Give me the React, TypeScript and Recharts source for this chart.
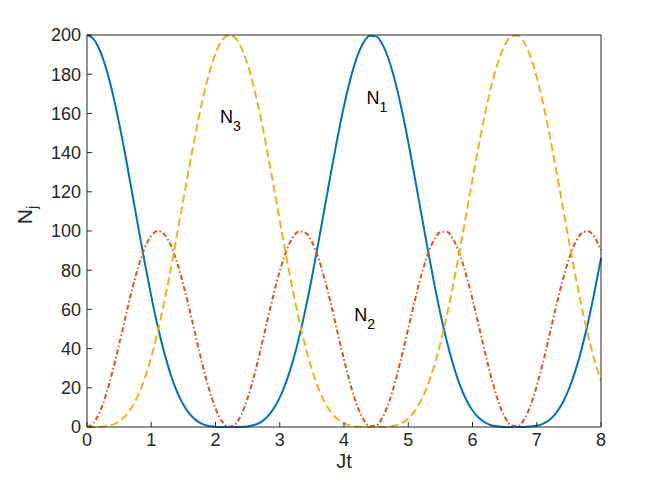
import { LineChart, Line, XAxis, YAxis, ReferenceDot } from 'recharts';

// Jt sample points
const jt = [
  0, 0.1, 0.2, 0.3, 0.4, 0.5, 0.6, 0.7, 0.8, 0.9,
  1, 1.1, 1.2, 1.3, 1.4, 1.5, 1.6, 1.7, 1.8, 1.9,
  2, 2.1, 2.2, 2.3, 2.4, 2.5, 2.6, 2.7, 2.8, 2.9,
  3, 3.1, 3.2, 3.3, 3.4, 3.5, 3.6, 3.7, 3.8, 3.9,
  4, 4.1, 4.2, 4.3, 4.4, 4.5, 4.6, 4.7, 4.8, 4.9,
  5, 5.1, 5.2, 5.3, 5.4, 5.5, 5.6, 5.7, 5.8, 5.9,
  6, 6.1, 6.2, 6.3, 6.4, 6.5, 6.6, 6.7, 6.8, 6.9,
  7, 7.1, 7.2, 7.3, 7.4, 7.5, 7.6, 7.7, 7.8, 7.9,
  8,
];

const n1 = [
  200, 198.0, 192.1, 182.7, 170.1, 154.9, 138.0, 119.9, 101.6, 83.7,
  66.8, 51.5, 38.2, 27.0, 18.1, 11.4, 6.6, 3.4, 1.5, 0.5,
  0.1, 0.0, 0.0, 0.0, 0.1, 0.3, 1.0, 2.4, 5.0, 9.1,
  15.0, 23.0, 33.1, 45.6, 60.0, 76.3, 93.8, 112.1, 130.3, 147.8,
  163.8, 177.6, 188.5, 195.9, 199.6, 199.3, 195.1, 187.1, 175.8, 161.7,
  145.4, 127.7, 109.4, 91.3, 73.9, 57.9, 43.7, 31.6, 21.7, 14.0,
  8.4, 4.6, 2.2, 0.8, 0.2, 0.0, 0.0, 0.0, 0.0, 0.2,
  0.6, 1.7, 3.7, 7.1, 12.2, 19.3, 28.5, 40.0, 53.6, 69.1,
  86.2,
];

const n2 = [
  0, 2.0, 7.8, 16.9, 28.7, 42.2, 56.3, 69.9, 81.9, 91.4,
  97.6, 100.0, 98.4, 93.0, 84.2, 72.6, 59.3, 45.2, 31.5, 19.3,
  9.5, 2.9, 0.1, 1.2, 6.2, 14.7, 26.0, 39.2, 53.3, 67.1,
  79.5, 89.6, 96.5, 99.8, 99.1, 94.5, 86.3, 75.3, 62.3, 48.2,
  34.4, 21.7, 11.3, 4.0, 0.4, 0.7, 4.9, 12.6, 23.4, 36.3,
  50.2, 64.2, 77.0, 87.7, 95.4, 99.4, 99.6, 95.8, 88.3, 77.9,
  65.2, 51.3, 37.3, 24.3, 13.3, 5.3, 0.8, 0.3, 3.6, 10.7,
  20.9, 33.4, 47.2, 61.3, 74.4, 85.6, 94.0, 98.9, 99.9, 96.9,
  90.2,
];

const n3 = [
  0, 0.0, 0.1, 0.4, 1.2, 2.9, 5.7, 10.2, 16.5, 24.9,
  35.6, 48.5, 63.4, 79.9, 97.7, 116.0, 134.2, 151.4, 167.0, 180.2,
  190.4, 197.1, 199.9, 198.8, 193.7, 185.0, 173.0, 158.3, 141.7, 123.8,
  105.5, 87.4, 70.3, 54.7, 40.9, 29.3, 19.9, 12.6, 7.4, 3.9,
  1.8, 0.7, 0.2, 0.0, 0.0, 0.0, 0.0, 0.2, 0.8, 2.0,
  4.3, 8.1, 13.5, 21.1, 30.8, 42.7, 56.8, 72.7, 90.0, 108.1,
  126.4, 144.2, 160.6, 174.9, 186.4, 194.7, 199.2, 199.7, 196.3, 189.1,
  178.5, 164.9, 149.0, 131.6, 113.4, 95.1, 77.5, 61.2, 46.5, 34.0,
  23.6,
];

const xTicks = [0, 1, 2, 3, 4, 5, 6, 7, 8];
const yTicks = [0, 20, 40, 60, 80, 100, 120, 140, 160, 180, 200];

// curve annotations (left edge / baseline of the "N")
const notes = [
  { sub: '1', x: 4.35, y: 165 },
  { sub: '3', x: 2.07, y: 155 },
  { sub: '2', x: 4.16, y: 54 },
];

const data = jt.map((t, i) => ({ t, n1: n1[i], n2: n2[i], n3: n3[i] }));

const FONT = '"Liberation Sans", Arial, Helvetica, sans-serif';
const AXIS = '#262626';
const tickStyle = { fill: AXIS, fontSize: 18, fontFamily: FONT };

const XLabel = ({ viewBox }: any) => (
  <text
    x={viewBox.x + viewBox.width / 2}
    y={viewBox.y + 41}
    textAnchor="middle"
    fontSize={20}
    fontFamily={FONT}
    fill={AXIS}
  >
    Jt
  </text>
);

const YLabel = ({ viewBox }: any) => {
  const x = viewBox.x - 54;
  const y = viewBox.y + 180;
  return (
    <text
      x={x}
      y={y}
      transform={`rotate(-90, ${x}, ${y})`}
      textAnchor="middle"
      fontSize={21}
      fontFamily={FONT}
      fill={AXIS}
    >
      N
      <tspan fontSize={15} dy={5}>
        j
      </tspan>
    </text>
  );
};

const noteShape = (sub: string) => (props: any) => (
  <text x={props.cx} y={props.cy} fontSize={18} fontFamily={FONT} fill="#000">
    N
    <tspan fontSize={14} dy={8}>
      {sub}
    </tspan>
  </text>
);

export default function App() {
  return (
    <div style={{ position: 'absolute', left: 0, top: 0, background: '#fff' }}>
      <LineChart
        width={664}
        height={480}
        data={data}
        margin={{ top: 34, right: 62, bottom: 52, left: 86 }}
      >
        <XAxis
          dataKey="t"
          type="number"
          domain={[0, 8]}
          ticks={xTicks}
          interval={0}
          height={1}
          stroke={AXIS}
          tickSize={-5}
          tickMargin={11}
          tick={tickStyle}
          label={<XLabel />}
        />
        <XAxis
          xAxisId="top"
          orientation="top"
          dataKey="t"
          type="number"
          domain={[0, 8]}
          ticks={xTicks}
          interval={0}
          height={1}
          stroke={AXIS}
          tickSize={-5}
          tick={false}
        />
        <YAxis
          type="number"
          domain={[0, 200]}
          ticks={yTicks}
          interval={0}
          width={1}
          stroke={AXIS}
          tickSize={-5}
          tickMargin={11}
          tick={tickStyle}
          label={<YLabel />}
        />
        <YAxis
          yAxisId="right"
          orientation="right"
          type="number"
          domain={[0, 200]}
          ticks={yTicks}
          interval={0}
          width={1}
          stroke={AXIS}
          tickSize={-5}
          tick={false}
        />
        <Line
          type="monotone"
          dataKey="n1"
          stroke="#0072BD"
          strokeWidth={2}
          dot={false}
          isAnimationActive={false}
        />
        <Line
          type="monotone"
          dataKey="n2"
          stroke="#D95319"
          strokeWidth={2}
          strokeDasharray="5 2.5 1.5 2.5"
          dot={false}
          isAnimationActive={false}
        />
        <Line
          type="monotone"
          dataKey="n3"
          stroke="#EDB120"
          strokeWidth={2}
          strokeDasharray="8 4"
          dot={false}
          isAnimationActive={false}
        />
        {notes.map((n) => (
          <ReferenceDot
            key={n.sub}
            x={n.x}
            y={n.y}
            r={0}
            shape={noteShape(n.sub)}
          />
        ))}
      </LineChart>
    </div>
  );
}
